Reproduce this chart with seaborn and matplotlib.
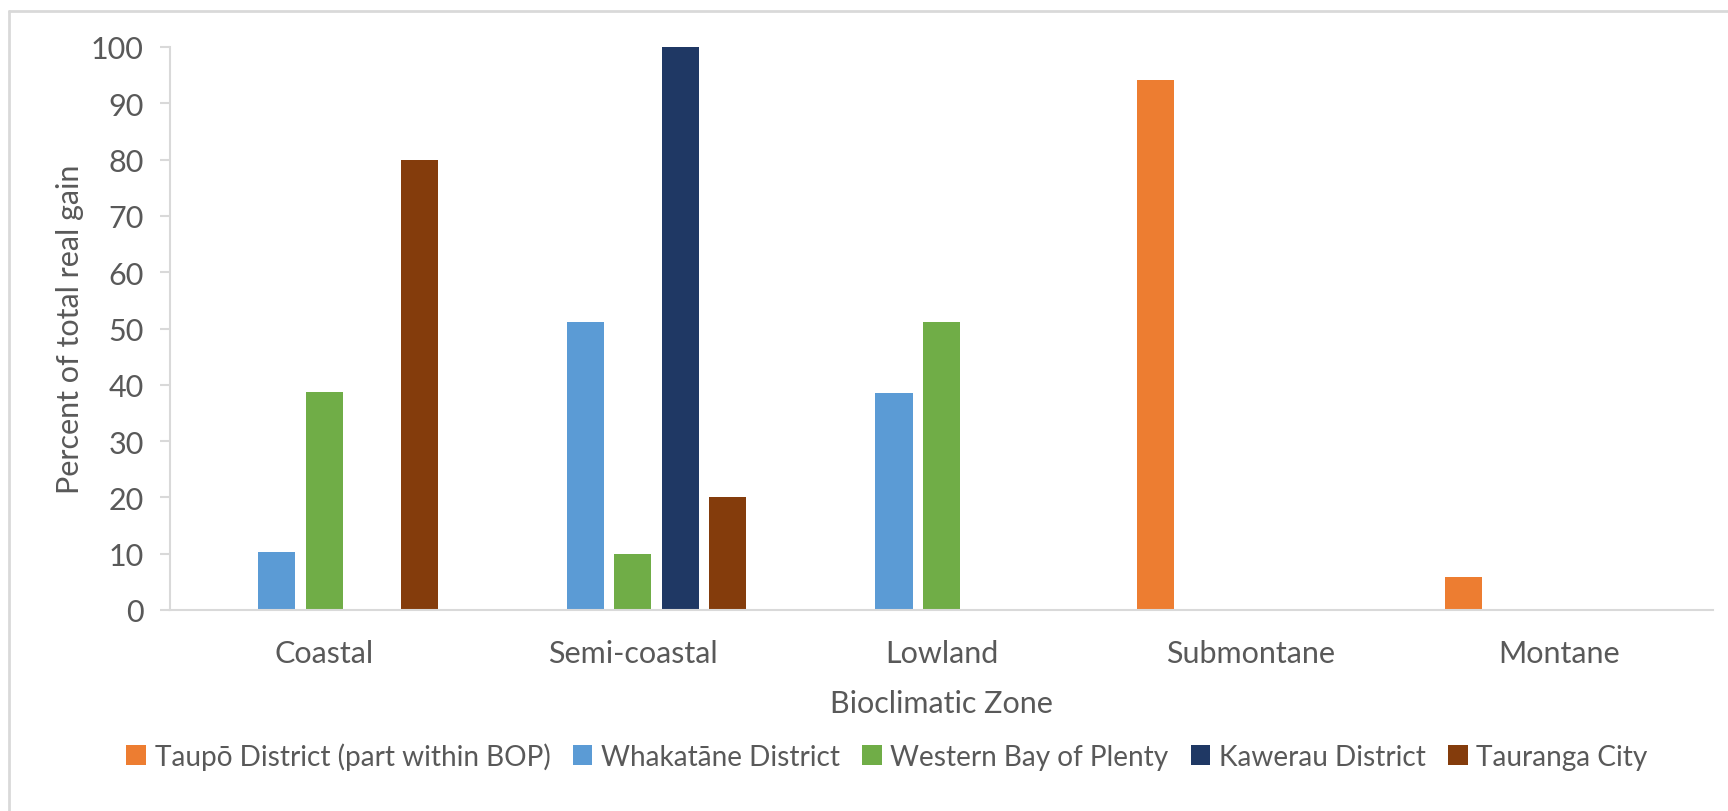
import numpy as np
import pandas as pd
import matplotlib
matplotlib.use("Agg")
import matplotlib.pyplot as plt
from matplotlib.lines import Line2D
from matplotlib.patches import Patch
import seaborn as sns

# Share of total real gain (%) by bioclimatic zone for each district
zones = ["Coastal", "Semi-coastal", "Lowland", "Submontane", "Montane"]
districts = [
    "Taupō District (part within BOP)",
    "Whakatāne District",
    "Western Bay of Plenty",
    "Kawerau District",
    "Tauranga City",
]
taupo = [0, 0, 0, 94.2, 5.8]
whakatane = [10.3, 51.2, 38.6, 0, 0]
western_bop = [38.8, 10.0, 51.2, 0, 0]
kawerau = [0, 100.0, 0, 0, 0]
tauranga = [80.0, 20.0, 0, 0, 0]
colors = ["#ED7D31", "#5B9BD5", "#70AD47", "#1F3864", "#843C0C"]
y_ticks = [0, 10, 20, 30, 40, 50, 60, 70, 80, 90, 100]

series = [taupo, whakatane, western_bop, kawerau, tauranga]
df = pd.DataFrame(
    [(z, d, v) for d, vals in zip(districts, series) for z, v in zip(zones, vals)],
    columns=["Zone", "District", "Value"],
)

sns.set_theme(style="white")
plt.rcParams["font.family"] = ["Lato", "DejaVu Sans"]
text_color = "#595959"
axis_color = "#D9D9D9"

fig = plt.figure(figsize=(17.28, 8.12), dpi=100)
ax = fig.add_axes([170 / 1728, 1 - 611 / 812, (1713 - 170) / 1728, (611 - 48) / 812])

sns.barplot(
    data=df, x="Zone", y="Value", hue="District",
    order=zones, hue_order=districts, palette=colors,
    width=0.77, gap=0.22, linewidth=0, saturation=1,
    legend=False, ax=ax,
)

ax.set_ylim(0, 100)
ax.set_xlim(-0.5, len(zones) - 0.5)
ax.set_yticks(y_ticks)
ax.set_yticklabels([str(t) for t in y_ticks])

# Category boundaries carry the tick marks; labels sit at the centres
ax.set_xticks(np.arange(len(zones)))
ax.set_xticklabels(zones)
ax.set_xticks(np.arange(len(zones) + 1) - 0.5, minor=True)
ax.tick_params(axis="x", which="major", length=0, pad=21, labelsize=22, labelcolor=text_color)
ax.tick_params(axis="x", which="minor", length=8, width=1.5, color=axis_color, direction="out")
ax.tick_params(axis="y", length=7, width=1.5, color=axis_color, pad=12, labelsize=22,
               labelcolor=text_color, left=True)

for side in ["top", "right"]:
    ax.spines[side].set_visible(False)
for side in ["left", "bottom"]:
    ax.spines[side].set_color(axis_color)
    ax.spines[side].set_linewidth(1.5)

ax.set_xlabel("Bioclimatic Zone", fontsize=22, color=text_color, labelpad=16)
ax.set_ylabel("Percent of total real gain", fontsize=22, color=text_color, labelpad=5)

handles = [Patch(facecolor=c, edgecolor="none") for c in colors]
fig.legend(
    handles, districts, loc="center", bbox_to_anchor=(887 / 1728, 1 - 757 / 812),
    ncol=5, frameon=False, fontsize=20.2, labelcolor=text_color,
    handlelength=0.7, handleheight=0.7, handletextpad=0.3, columnspacing=0.8,
)

# Light frame around the chart area
fig.add_artist(Line2D([9 / 1728, 9 / 1728], [0, 1 - 12 / 812], transform=fig.transFigure,
                      color=axis_color, linewidth=2))
fig.add_artist(Line2D([9 / 1728, 1], [1 - 12 / 812, 1 - 12 / 812], transform=fig.transFigure,
                      color=axis_color, linewidth=2))

fig.savefig("out.png", dpi=100, facecolor="white")
